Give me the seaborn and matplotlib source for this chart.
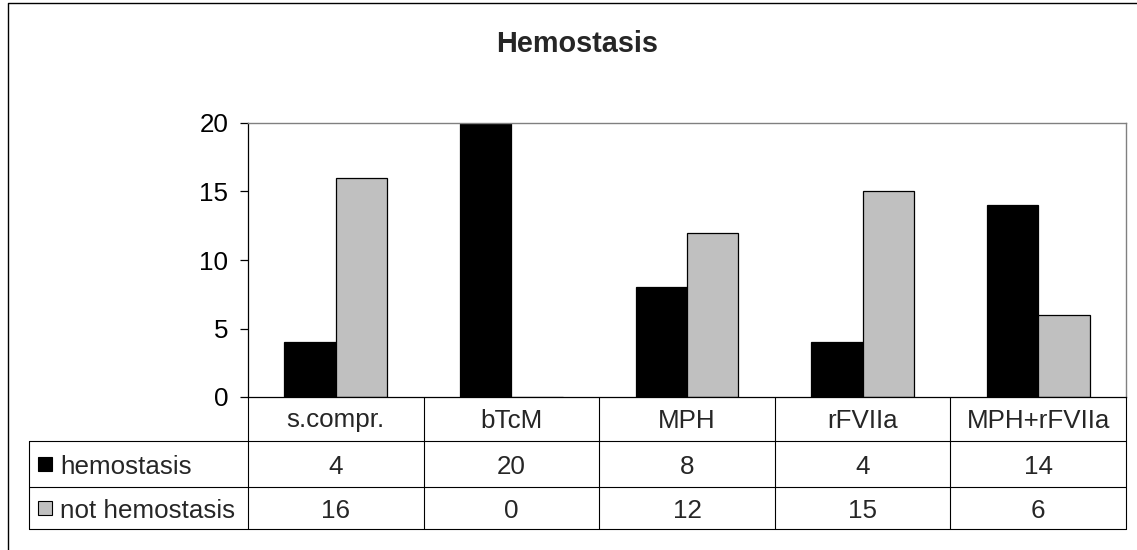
import numpy as np
import pandas as pd
import seaborn as sns
import matplotlib
matplotlib.use("Agg")
import matplotlib.pyplot as plt
from matplotlib.lines import Line2D
from matplotlib.patches import Rectangle
from matplotlib.transforms import blended_transform_factory

# ---- data -------------------------------------------------------------
groups = ["s.compr.", "bTcM", "MPH", "rFVIIa", "MPH+rFVIIa"]
hemostasis = [4, 20, 8, 4, 14]
not_hemostasis = [16, 0, 12, 15, 6]
series_names = ["hemostasis", "not hemostasis"]
series_colors = ["#000000", "#C0C0C0"]
yticks = [0, 5, 10, 15, 20]
title = "Hemostasis"

df = pd.DataFrame({
    "group": groups * 2,
    "count": hemostasis + not_hemostasis,
    "outcome": [series_names[0]] * len(groups) + [series_names[1]] * len(groups),
})

# ---- figure setup -----------------------------------------------------
sns.set_style("white")
plt.rcParams["font.family"] = ["Liberation Sans", "DejaVu Sans"]

W, H = 1137, 550
fig = plt.figure(figsize=(W / 100, H / 100), dpi=100)
FS = 18.7


def fx(px):
    return px / W


def fy(py):
    return 1 - py / H


ax_l, ax_r, ax_t, ax_b = 248, 1126, 123, 397
ax = fig.add_axes([fx(ax_l), fy(ax_b), fx(ax_r - ax_l), (ax_b - ax_t) / H])

sns.barplot(
    data=df, x="group", y="count", hue="outcome",
    order=groups, hue_order=series_names,
    palette=series_colors, width=0.586, gap=0,
    edgecolor="black", linewidth=0.9, legend=False, ax=ax,
)

ax.set_xlim(-0.5, len(groups) - 0.5)
ax.set_ylim(0, 20)
ax.set_yticks(yticks)
ax.set_yticklabels([str(t) for t in yticks])
ax.set_xticks([])
ax.set_xlabel("")
ax.set_ylabel("")
ax.grid(False)
ax.tick_params(axis="y", direction="out", length=5.8, width=0.9,
               pad=8.5, labelsize=FS, colors="black", left=True)

for side in ("left", "bottom"):
    ax.spines[side].set_color("black")
    ax.spines[side].set_linewidth(0.9)
for side in ("top", "right"):
    ax.spines[side].set_color("#808080")
    ax.spines[side].set_linewidth(1.0)

# ---- data table under the plot -----------------------------------------
line_kw = dict(color="black", linewidth=0.8)
tbl_left = 29
row_lines = [441, 487, 529]
for yy in row_lines:
    fig.add_artist(Line2D([fx(tbl_left), fx(ax_r)], [fy(yy), fy(yy)], **line_kw))

trans = blended_transform_factory(ax.transData, fig.transFigure)
for i in range(len(groups) + 1):
    xb = i - 0.5
    fig.add_artist(Line2D([xb, xb], [fy(ax_b), fy(row_lines[-1])],
                          transform=trans, **line_kw))
fig.add_artist(Line2D([fx(tbl_left), fx(tbl_left)],
                      [fy(row_lines[0]), fy(row_lines[-1])], **line_kw))

header_y, row1_y, row2_y = 418, 464, 508
for i, g in enumerate(groups):
    fig.text(i, fy(header_y), g, transform=trans, ha="center",
             va="center_baseline", fontsize=FS)
    fig.text(i, fy(row1_y), str(hemostasis[i]), transform=trans,
             ha="center", va="center_baseline", fontsize=FS)
    fig.text(i, fy(row2_y), str(not_hemostasis[i]), transform=trans,
             ha="center", va="center_baseline", fontsize=FS)

# legend keys in the row headers
for name, color, yc in zip(series_names, series_colors, [row1_y, row2_y]):
    fig.add_artist(Rectangle((fx(38), fy(yc + 7)), fx(14), 14 / H,
                             facecolor=color, edgecolor="black",
                             linewidth=0.8, transform=fig.transFigure))
    fig.text(fx(60), fy(yc), name, ha="left", va="center_baseline",
             fontsize=FS)

# ---- title and chart frame -------------------------------------------
fig.text(fx(577), fy(41), title, ha="center", va="center_baseline",
         fontsize=20.8, fontweight="bold")

fig.add_artist(Line2D([fx(8), fx(8), 1.0], [0.0, fy(3), fy(3)],
                      color="black", linewidth=1.0))

fig.savefig("out.png", dpi=100)
